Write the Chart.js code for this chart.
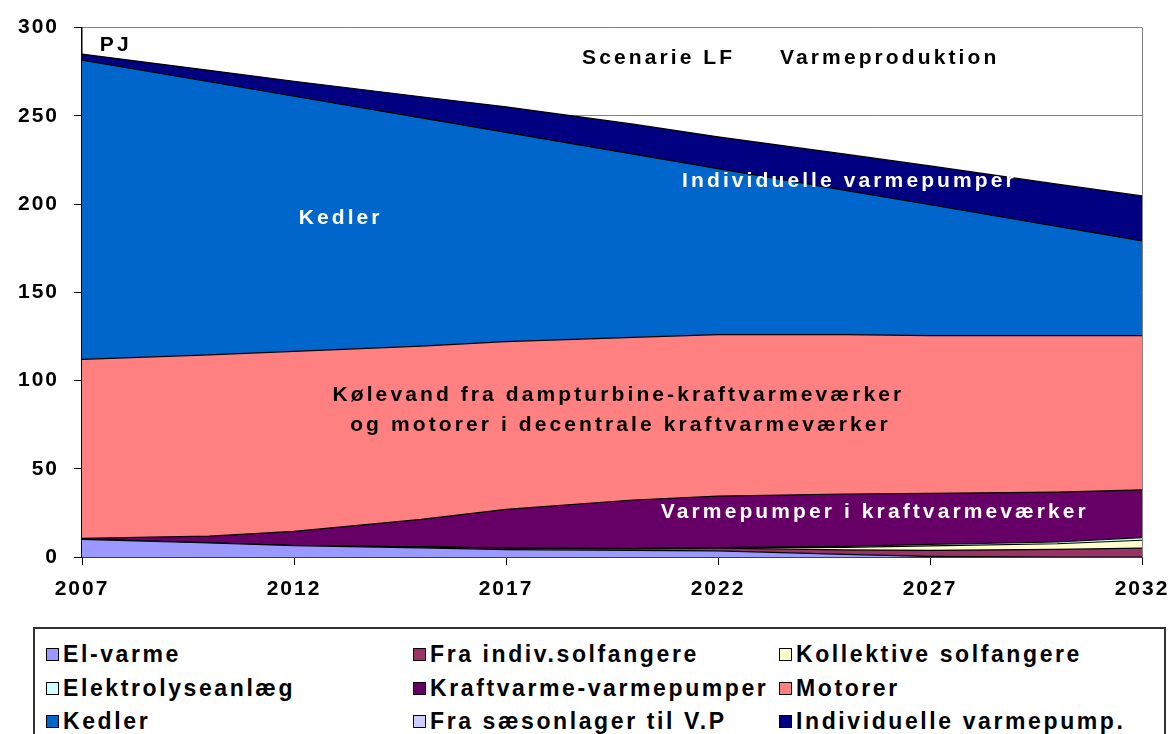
<!DOCTYPE html>
<html>
<head>
<meta charset="utf-8">
<script src="https://cdn.jsdelivr.net/npm/chart.js@4/dist/chart.umd.min.js"></script>
<style>
    body { margin: 0; background: #fff; }
    #wrap { position: relative; width: 1171px; height: 615px; }
    #legend {
        position: absolute; left: 33px; top: 627px; width: 1133px; height: 130px;
        border: 2px solid #333; box-sizing: border-box;
        font: bold 23px "Liberation Sans Narrow", "Liberation Sans", Arial, sans-serif;
        letter-spacing: 2.6px; color: #000;
    }
    .item { position: absolute; display: flex; align-items: center; white-space: nowrap; height: 30px; }
    .box { width: 11px; height: 11px; border: 1px solid #000; margin-right: 4px; }
</style>
</head>
<body>
<div id="wrap"><canvas id="chart" width="1171" height="615"></canvas></div>
<div id="legend"></div>
<script>
// Årstal og værdier (PJ)
const years = [2007, 2010, 2012, 2015, 2017, 2020, 2022, 2025, 2027, 2030, 2032];
const tickYears = [2007, 2012, 2017, 2022, 2027, 2032];
const yTicks = [0, 50, 100, 150, 200, 250, 300];

const elVarme     = [10, 8, 6.5, 5.2, 4.2, 3.8, 3.5, 1.5, 0.3, 0, 0];
const indivSol    = [0, 0, 0, 0.5, 0.8, 1, 1.5, 2.5, 3.5, 4.3, 5];
const kollSol     = [0, 0, 0, 0, 0, 0, 0.3, 1.5, 2.5, 3.2, 4.5];
const elektrolyse = [0, 0, 0, 0, 0, 0, 0, 0.5, 0.8, 1, 1.5];
const kvVarmepumpe = [0.5, 3.8, 8, 15.6, 22, 27.5, 29.2, 29.7, 28.9, 28.3, 27];
const motorer     = [101.5, 102.7, 102, 98.2, 95, 92.2, 91.5, 90.3, 89.5, 88.7, 87.5];
const kedler      = [169.5, 154.8, 144.6, 129.3, 118.6, 103.8, 94.1, 81.8, 74.1, 61.8, 53.6];
const saesonlager = [0, 0, 0, 0, 0, 0, 0, 0, 0, 0, 0];
const indivVarmepumpe = [3.5, 6.5, 8.5, 12, 14.5, 17, 18, 20.5, 22, 24, 25.5];

// Serier i stakkens rækkefølge (nederst først)
const series = [
    { label: 'El-varme', data: elVarme, color: '#9999FF' },
    { label: 'Fra indiv.solfangere', data: indivSol, color: '#993366' },
    { label: 'Kollektive solfangere', data: kollSol, color: '#FFFFCC' },
    { label: 'Elektrolyseanlæg', data: elektrolyse, color: '#CCFFFF' },
    { label: 'Kraftvarme-varmepumper', data: kvVarmepumpe, color: '#660066' },
    { label: 'Motorer', data: motorer, color: '#FF8080' },
    { label: 'Kedler', data: kedler, color: '#0066CC' },
    { label: 'Fra sæsonlager til V.P', data: saesonlager, color: '#CCCCFF' },
    { label: 'Individuelle varmepump.', data: indivVarmepumpe, color: '#000080' }
];

// Tekster inde i plotområdet (placeret i data-koordinater)
const notes = [
    { text: 'PJ', x: 2007.42, y: 290, color: '#000', align: 'left' },
    { text: 'Scenarie LF', x: 2020.6, y: 282.5, color: '#000' },
    { text: 'Varmeproduktion', x: 2026.05, y: 282.5, color: '#000' },
    { text: 'Kedler', x: 2013.1, y: 192, color: '#fff' },
    { text: 'Individuelle varmepumper', x: 2025.1, y: 212.8, color: '#fff' },
    { text: 'Kølevand fra dampturbine-kraftvarmeværker', x: 2019.65, y: 91.7, color: '#000' },
    { text: 'og motorer i decentrale kraftvarmeværker', x: 2019.7, y: 74.7, color: '#000' },
    { text: 'Varmepumper i kraftvarmeværker', x: 2025.7, y: 25.5, color: '#fff' }
];

const FONT = '"Liberation Sans", Arial, sans-serif';

const notesPlugin = {
    id: 'notes',
    beforeDraw(chart) {
        chart.ctx.letterSpacing = '2px';
    },
    afterDatasetsDraw(chart) {
        const { ctx, chartArea, scales } = chart;
        ctx.save();
        // højre kant af plotområdet
        ctx.strokeStyle = '#808080';
        ctx.lineWidth = 1;
        ctx.beginPath();
        ctx.moveTo(chartArea.right + 0.5, chartArea.top);
        ctx.lineTo(chartArea.right + 0.5, chartArea.bottom);
        ctx.stroke();

        ctx.font = 'bold 21px ' + FONT;
        ctx.letterSpacing = '3.1px';
        ctx.textBaseline = 'middle';
        notes.forEach(n => {
            ctx.fillStyle = n.color;
            ctx.textAlign = n.align || 'center';
            ctx.fillText(n.text, scales.x.getPixelForValue(n.x), scales.y.getPixelForValue(n.y));
        });
        ctx.restore();
    }
};

const ctx = document.getElementById('chart').getContext('2d');
const chart = new Chart(ctx, {
    type: 'line',
    data: {
        datasets: series.map((s, i) => ({
            label: s.label,
            data: years.map((yr, j) => ({ x: yr, y: s.data[j] })),
            backgroundColor: s.color,
            borderColor: '#000',
            borderWidth: 1.2,
            pointRadius: 0,
            tension: 0,
            fill: i === 0 ? 'origin' : '-1'
        }))
    },
    options: {
        responsive: false,
        animation: false,
        layout: { padding: { top: 27, right: 29, left: 0, bottom: 0 } },
        scales: {
            x: {
                type: 'linear',
                min: 2007,
                max: 2032,
                afterBuildTicks: scale => { scale.ticks = tickYears.map(v => ({ value: v })); },
                afterFit: scale => {
                    scale.height = 58;
                    // lad "2032" hænge ud over kanten som i originalen
                    scale.paddingLeft = 0;
                    scale.paddingRight = 0;
                },
                ticks: {
                    color: '#000',
                    padding: 12,
                    font: { family: FONT, size: 21, weight: 'bold' },
                    callback: v => String(v)
                },
                grid: { drawOnChartArea: false, tickLength: 8, tickColor: '#000' },
                border: { color: '#000', width: 1.5 }
            },
            y: {
                stacked: true,
                min: 0,
                max: 300,
                afterBuildTicks: scale => { scale.ticks = yTicks.map(v => ({ value: v })); },
                afterFit: scale => { scale.width = 82; },
                ticks: {
                    color: '#000',
                    padding: 15,
                    font: { family: FONT, size: 21, weight: 'bold' }
                },
                grid: { color: '#808080', tickLength: 8, tickColor: '#000' },
                border: { color: '#000', width: 1.5 }
            }
        },
        plugins: {
            legend: { display: false },
            tooltip: { enabled: false }
        }
    },
    plugins: [notesPlugin]
});

// Forklaring som HTML, bygget ud fra datasættene (3 kolonner)
const legendEl = document.getElementById('legend');
const colLeft = [11, 378, 744];
const rowTop = [10, 44, 77];
chart.data.datasets.forEach((ds, i) => {
    const item = document.createElement('div');
    item.className = 'item';
    item.style.left = colLeft[i % 3] + 'px';
    item.style.top = rowTop[Math.floor(i / 3)] + 'px';
    item.innerHTML = '<span class="box" style="background:' + ds.backgroundColor + '"></span>' + ds.label;
    legendEl.appendChild(item);
});
</script>
</body>
</html>
